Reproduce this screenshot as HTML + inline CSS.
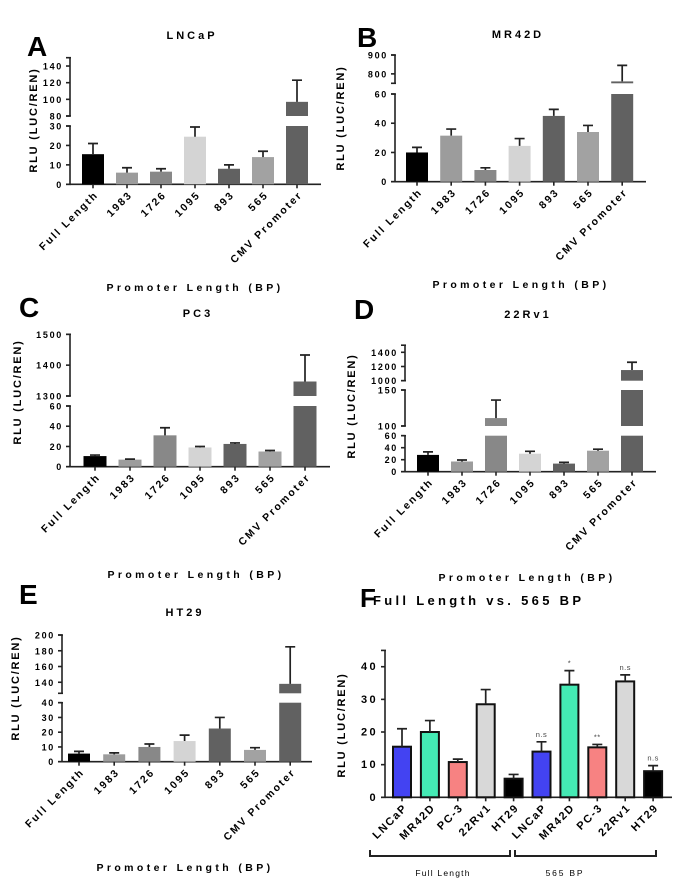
<!DOCTYPE html>
<html><head><meta charset="utf-8"><style>
html,body{margin:0;padding:0;background:#fff;}
svg{display:block;font-family:"Liberation Sans",Arial,sans-serif;}
</style></head><body>
<svg id="fig" width="675" height="881" viewBox="0 0 675 881"></svg>
<script>
const cats = ["Full Length","1983","1726","1095","893","565","CMV Promoter"];
const grays = ["#000","#9c9c9c","#888","#d4d4d4","#616161","#a2a2a2","#616161"];
const valsA = [15.5,6,6.5,24.5,8,14,97];
const errA  = [21,8.5,8,29.5,10,17,123];
const valsB = [20,31.5,8,24.5,45,34,760];
const errB  = [23.5,36,9.5,29.5,49.5,38.5,845];
const valsC = [10.5,7,31,19,22.5,15,1347];
const errC  = [11.5,7.5,38.5,20,23.5,16,1433];
const valsD = [28,17,111,30,13.5,35,1150];
const errD  = [33,19.5,136,34,15.5,37.5,1260];
const valsE = [5.5,5,10,14,22.5,8,138];
const errE  = [7,6,12,18,30,9.5,185];
const catsF = ["LNCaP","MR42D","PC-3","22Rv1","HT29","LNCaP","MR42D","PC-3","22Rv1","HT29"];
const valsF = [15.5,20,10.8,28.5,5.7,14,34.5,15.3,35.5,8];
const errF  = [21,23.5,11.7,33,7,17,38.8,16.2,37.5,9.7];
const sigF  = ["","","","","","n.s","*","**","n.s","n.s"];
const colF  = ["#4343f2","#44eab4","#f78282","#d8d8d8","#000","#4343f2","#44eab4","#f78282","#d8d8d8","#000"];

const NS="http://www.w3.org/2000/svg";
const svg=document.getElementById('fig');
function mk(tag,attrs,parent,text){const e=document.createElementNS(NS,tag);for(const k in attrs)e.setAttribute(k,attrs[k]);if(text!==undefined)e.textContent=text;(parent||svg).appendChild(e);return e;}
function sc(s,v){return s.y0+(v-s.lo)/(s.hi-s.lo)*(s.y1-s.y0);}
function segOf(segs,v){for(const s of segs){if(v>=s.lo&&v<=s.hi)return s;}return segs[segs.length-1];}

function panel(p){
  const g=mk('g',{});
  
  
  const L=mk('text',{x:p.letter[0],y:p.letter[1],'font-size':p.lsize||28,'font-weight':'bold'},g,p.letterText);
  
  
  const T=mk('text',{x:p.title[0],y:p.title[1],'font-size':p.tsize||11,'font-weight':'bold','text-anchor':p.tanchor||'middle','letter-spacing':p.tls||3},g,p.titleText);
  
  
  const base=p.segs[0].y0;
  p.segs.forEach(s=>{
    const a=mk('line',{x1:p.ax,x2:p.ax,y1:s.y0,y2:s.y1,stroke:'#222','stroke-width':1.6},g);
    
    
    [s.y0,s.y1].forEach(y=>{mk('line',{x1:p.ax-4,x2:p.ax+1,y1:y,y2:y,stroke:'#222','stroke-width':1.6},g);});
    s.ticks.forEach(t=>{
      const y=sc(s,t);
      mk('line',{x1:p.ax-4,x2:p.ax,y1:y,y2:y,stroke:'#222','stroke-width':1.6},g);
      const tl=mk('text',{x:p.ax-7,y:y+3.5,'font-size':p.tfs||9,'font-weight':'bold','text-anchor':'end','letter-spacing':p.tls2||1.7},g,t);
      
      
    });
  });
  const xa=mk('line',{x1:p.ax,x2:p.axEnd,y1:base,y2:base,stroke:'#222','stroke-width':1.6},g);
  
  
  const yl=mk('text',{x:0,y:0,'font-size':p.ylfs||11,'font-weight':'bold','text-anchor':'middle','letter-spacing':1.8,transform:`translate(${p.yl[0]},${p.yl[1]}) rotate(-90)`},g,'RLU (LUC/REN)');
  
  
  if(p.xlabel){
    const xl=mk('text',{x:p.xlabel[0],y:p.xlabel[1],'font-size':10.5,'font-weight':'bold','text-anchor':'middle','letter-spacing':3.4},g,'Promoter Length (BP)');
    
    
  }
  const n=p.vals.length;
  for(let i=0;i<n;i++){
    const cx=p.c0+i*p.dx, v=p.vals[i], e=p.errs[i];
    p.segs.forEach(s=>{
      if(v<=s.lo)return;
      const top=Math.min(v,s.hi);
      const y1=sc(s,top), y0=sc(s,s.lo);
      const r=mk('rect',{x:cx-p.bw/2,y:y1,width:p.bw,height:Math.max(0,y0-y1),fill:p.colors[i],stroke:p.stroke||'none','stroke-width':p.stroke?2:0},g);
      
      
    });
    const sv=segOf(p.segs,v), se=segOf(p.segs,e);
    const yv=sc(sv,v), ye=sc(se,e);
    const eb=mk('path',{d:`M${cx},${yv}V${ye}M${cx-5},${ye}H${cx+5}`,stroke:'#222','stroke-width':1.7,fill:'none'},g);
    
    
    mk('line',{x1:cx,x2:cx,y1:base,y2:base+4,stroke:'#222','stroke-width':1.6},g);
    const lab=mk('text',{x:0,y:0,'font-size':p.cfs||10.5,'font-weight':'bold','text-anchor':'end','letter-spacing':p.cls||2,transform:`translate(${cx+6},${base+11}) rotate(-45)`},g,p.cats[i]);
    
    
    if(p.sig&&p.sig[i]){
      const st=mk('text',{x:cx,y:ye-5,'font-size':7.5,'text-anchor':'middle','fill':'#444','letter-spacing':0.5},g,p.sig[i]);
      
      
    }
  }
}

panel({name:'panel-a-lncap',letterText:'A',letter:[27,56],titleText:'LNCaP',title:[192,39],ax:70,axEnd:321,
  segs:[{lo:0,hi:30,y0:184.3,y1:126,ticks:[0,10,20,30]},{lo:80,hi:150,y0:116,y1:57.7,ticks:[80,100,120,140]}],
  yl:[37,120],xlabel:[195,291],c0:93,dx:34,bw:22,vals:valsA,errs:errA,cats:cats,colors:grays});
panel({name:'panel-b-mr42d',letterText:'B',letter:[357,47],titleText:'MR42D',title:[518,38],ax:395,axEnd:646,
  segs:[{lo:0,hi:60,y0:181.7,y1:94,ticks:[0,20,40,60]},{lo:750,hi:900,y0:83.3,y1:55,ticks:[800,900]}],
  yl:[344,118],xlabel:[521,288],c0:417,dx:34.2,bw:22,vals:valsB,errs:errB,cats:cats,colors:grays});
panel({name:'panel-c-pc3',letterText:'C',letter:[19,317],titleText:'PC3',title:[198,317],ax:70,axEnd:330,
  segs:[{lo:0,hi:60,y0:466.7,y1:406,ticks:[0,20,40,60]},{lo:1300,hi:1500,y0:396,y1:334.3,ticks:[1300,1400,1500]}],
  yl:[21,392],xlabel:[196,578],c0:95,dx:35,bw:23,vals:valsC,errs:errC,cats:cats,colors:grays});
panel({name:'panel-d-22rv1',letterText:'D',letter:[354,319],titleText:'22Rv1',title:[528,318],ax:405,axEnd:656,
  segs:[{lo:0,hi:60,y0:471.7,y1:435.7,ticks:[0,20,40,60]},{lo:100,hi:150,y0:426,y1:390,ticks:[100,150]},{lo:1000,hi:1500,y0:380.7,y1:345.2,ticks:[1000,1200,1400]}],
  yl:[355,406],xlabel:[527,581],c0:428,dx:34,bw:22,vals:valsD,errs:errD,cats:cats,colors:grays});
panel({name:'panel-e-ht29',letterText:'E',letter:[19,604],titleText:'HT29',title:[185,616],ax:62,axEnd:312,
  segs:[{lo:0,hi:40,y0:761.7,y1:702.7,ticks:[0,10,20,30,40]},{lo:126,hi:200,y0:693.3,y1:635,ticks:[140,160,180,200]}],
  yl:[19,688],xlabel:[185,871],c0:79,dx:35.2,bw:22,vals:valsE,errs:errE,cats:cats,colors:grays});
panel({name:'panel-f-comparison',letterText:'F',letter:[360,607],lsize:26,titleText:'Full Length  vs. 565 BP',title:[373,605],tanchor:'start',tsize:13,tls:3.3,ax:385,axEnd:672,
  segs:[{lo:0,hi:45,y0:797.3,y1:650.4,ticks:[0,10,20,30,40]}],tfs:11,tls2:2.4,ylfs:11,
  yl:[345,725],xlabel:null,c0:402,dx:27.9,bw:18,stroke:'#111',cfs:11,cls:1.6,vals:valsF,errs:errF,cats:catsF,colors:colF,sig:sigF});

const br1=mk('path',{d:'M370,850V856H510V850',stroke:'#222','stroke-width':2,fill:'none'});


const br2=mk('path',{d:'M515,850V856H656V850',stroke:'#222','stroke-width':2,fill:'none'});


const g1=mk('text',{x:443,y:876,'font-size':8.5,'text-anchor':'middle','letter-spacing':1.2},svg,'Full Length');


const g2=mk('text',{x:565,y:876,'font-size':8.5,'text-anchor':'middle','letter-spacing':1.8},svg,'565 BP');


</script>
</body></html>
